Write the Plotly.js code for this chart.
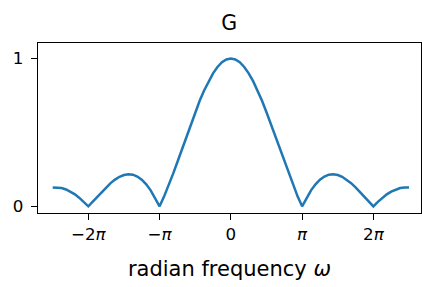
<!DOCTYPE html>
<html>
<head>
<meta charset="utf-8">
<script src="https://cdn.plot.ly/plotly-3.0.1.min.js"></script>
<style>html,body{margin:0;padding:0;background:#fff;}#chart{width:422px;height:287px;}</style>
</head>
<body>
<div id="chart"></div>
<script>
// frequency in multiples of pi
var omegaOverPi = [-2.5,-2.4375,-2.375,-2.3125,-2.25,-2.1875,-2.125,-2.0625,-2,-1.9375,-1.875,-1.8125,-1.75,-1.6875,-1.625,-1.5625,-1.5,-1.4375,-1.375,-1.3125,-1.25,-1.1875,-1.125,-1.0625,-1,-0.9375,-0.875,-0.8125,-0.75,-0.6875,-0.625,-0.5625,-0.5,-0.4375,-0.375,-0.3125,-0.25,-0.1875,-0.125,-0.0625,0,0.0625,0.125,0.1875,0.25,0.3125,0.375,0.4375,0.5,0.5625,0.625,0.6875,0.75,0.8125,0.875,0.9375,1,1.0625,1.125,1.1875,1.25,1.3125,1.375,1.4375,1.5,1.5625,1.625,1.6875,1.75,1.8125,1.875,1.9375,2,2.0625,2.125,2.1875,2.25,2.3125,2.375,2.4375,2.5];
var gain = [0.127,0.128,0.124,0.114,0.100,0.081,0.057,0.030,0,0.032,0.065,0.098,0.129,0.157,0.181,0.200,0.212,0.217,0.214,0.202,0.180,0.149,0.108,0.058,0,0.066,0.139,0.218,0.300,0.385,0.471,0.555,0.637,0.714,0.784,0.847,0.900,0.943,0.975,0.994,1,0.994,0.975,0.943,0.900,0.847,0.784,0.714,0.637,0.555,0.471,0.385,0.300,0.218,0.139,0.066,0,0.058,0.108,0.149,0.180,0.202,0.214,0.217,0.212,0.200,0.181,0.157,0.129,0.098,0.065,0.032,0,0.030,0.057,0.081,0.100,0.114,0.124,0.128,0.127];
var xTickVals = [-2,-1,0,1,2];
var xTickText = ['\u22122<i>\u03c0</i>','\u2212<i>\u03c0</i>','0','<i>\u03c0</i>','2<i>\u03c0</i>'];
var yTickVals = [0,1];
var yTickText = ['0','1'];

var font = {family:'DejaVu Sans', size:16.7, color:'#000'};
var axisCommon = {
  showgrid:false, zeroline:false, showline:true, mirror:true,
  linecolor:'#000', linewidth:1.2, ticks:'outside', ticklen:6, tickwidth:1.2,
  tickcolor:'#000', tickfont:font, tickmode:'array'
};
var layout = {
  width:422, height:287,
  margin:{l:38,r:1,t:43,b:74},
  paper_bgcolor:'#fff', plot_bgcolor:'#fff',
  showlegend:false,
  font:font,
  title:{text:'G', font:{family:'DejaVu Sans', size:20.5, color:'#000'},
         x:0.543, xanchor:'center', y:1-30/287, yanchor:'bottom', yref:'container'},
  xaxis:Object.assign({}, axisCommon, {
    range:[-2.706,2.668], tickvals:xTickVals, ticktext:xTickText,
    title:{text:'radian frequency <i>\u03c9</i>', font:{family:'DejaVu Sans', size:21, color:'#000'}, standoff:18}
  }),
  yaxis:Object.assign({}, axisCommon, {
    range:[-0.045,1.105], tickvals:yTickVals, ticktext:yTickText,
    ticklabelstandoff:4
  })
};
Plotly.newPlot('chart', [{
  x:omegaOverPi, y:gain, type:'scatter', mode:'lines',
  line:{color:'#1f77b4', width:2.5}
}], layout, {staticPlot:true, displayModeBar:false});
</script>
</body>
</html>
